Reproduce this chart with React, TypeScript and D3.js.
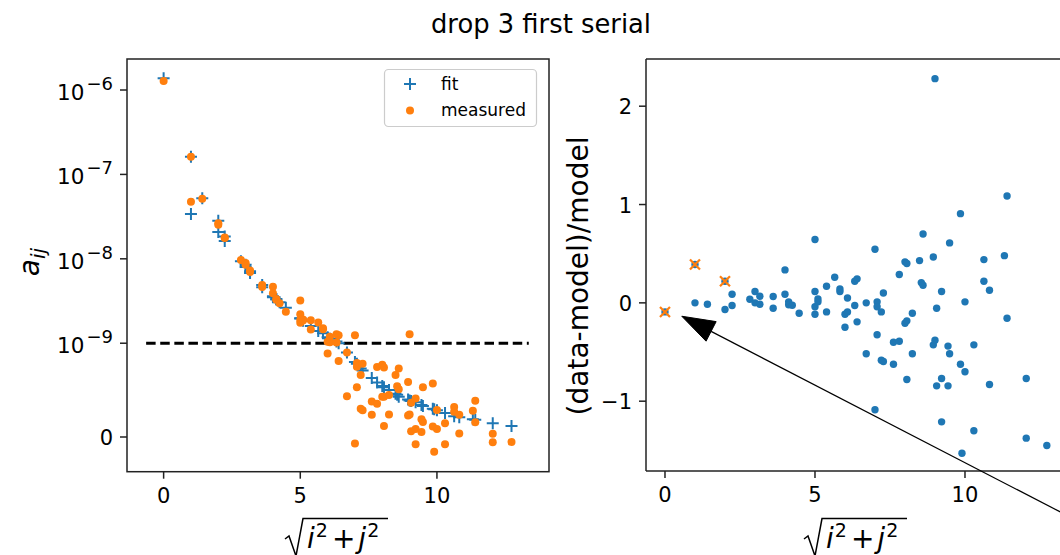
import React from "react";
import * as d3 from "d3";

const FONT = "'DejaVu Sans', sans-serif";
const BLUE = "#1f77b4";
const ORANGE = "#ff7f0e";

// values in units of 1e-9 ; r = sqrt(i^2 + j^2)
const fitPts: [number, number][] = [
  [0, 1377], [1, 162], [1, 34], [1.414, 52.2], [2, 28.3], [2, 20.8], [2.236, 16.3], [2.236, 18.4],
  [2.828, 9.35], [3, 8.0], [3, 8.5], [3.162, 6.8], [3.162, 7.1], [3.606, 4.6], [3.606, 4.9],
  [4, 3.5], [4, 3.6], [4.123, 3.3], [4.123, 3.35], [4.243, 3.05], [4.472, 2.64], [5, 1.96], [5, 1.98],
  [5.099, 1.84], [5.385, 1.6], [5.657, 1.4], [5.831, 1.31], [6, 1.18], [6.083, 1.13], [6.325, 1.05],
  [6.403, 1.0], [6.708, 0.9], [7, 0.8], [7.071, 0.78], [7.211, 0.73], [7.28, 0.71], [7.616, 0.63],
  [7.81, 0.58], [8, 0.545], [8.062, 0.53], [8.246, 0.5], [8.485, 0.46], [8.544, 0.45], [8.602, 0.43],
  [8.944, 0.4], [9, 0.39], [9.055, 0.385], [9.22, 0.37], [9.434, 0.34], [9.487, 0.33], [9.849, 0.3],
  [9.899, 0.295], [10, 0.285], [10.296, 0.255], [10.63, 0.22], [10.817, 0.21], [11.314, 0.19],
  [11.402, 0.185], [12.042, 0.147], [12.728, 0.118],
];

const measPts: [number, number][] = [
  [0, 1279], [1, 162], [1, 47.5], [1.414, 51.5], [2, 26.4], [2, 25.4], [2.236, 17.7], [2.236, 17.9],
  [2.828, 9.7], [3, 8.9], [3, 8.5], [3.162, 7.25], [3.162, 7.0], [3.606, 4.9], [3.606, 4.63],
  [4, 4.68], [4, 3.92], [4.123, 3.33], [4.123, 3.28], [4.243, 2.98], [4.472, 2.36], [5, 3.2], [5, 2.2],
  [5, 1.88], [5, 1.75], [5.099, 1.91], [5.099, 1.86], [5.385, 1.87], [5.385, 1.45], [5.657, 1.76],
  [5.831, 1.5], [5.831, 1.46], [6, 1.04], [6, 0.89], [6.083, 1.03], [6.083, 1.19], [6.325, 1.02],
  [6.325, 1.28], [6.403, 1.24], [6.403, 0.81], [6.708, 0.9], [6.708, 0.434], [7, -0.07], [7, 1.24],
  [7.071, 0.79], [7.071, 0.75], [7.071, 0.53], [7.211, 0.66], [7.211, 0.3], [7.28, 0.78], [7.28, 0.286],
  [7.616, 0.378], [7.616, 0.237], [7.81, 0.747], [7.81, 0.354], [8, 0.77], [8, 0.43], [8.062, 0.74],
  [8.062, 0.43], [8.062, 0.117], [8.246, 0.447], [8.246, 0.24], [8.485, 0.66], [8.544, 0.54],
  [8.602, 0.51], [8.602, 0.73], [8.944, 0.23], [8.944, 0.587], [9, 0.24], [9, 1.28], [9.055, 0.364],
  [9.055, 0.06], [9.22, 0.41], [9.22, 0.085], [9.22, -0.078], [9.434, 0.19], [9.434, 0.053],
  [9.487, 0.16], [9.487, 0.53], [9.849, 0.57], [9.849, 0.113], [9.899, -0.156], [10, 0.086], [10, 0.288],
  [10.296, 0.146], [10.296, -0.077], [10.63, 0.27], [10.63, 0.32], [10.817, 0.237], [10.817, 0.036],
  [11.314, 0.28], [11.402, 0.386], [11.402, 0.156], [12.042, 0.034], [12.042, -0.055], [12.728, -0.053],
];

const residPts: [number, number][] = [
  [1, 0.0], [1.414, -0.014], [2, -0.068], [2.236, 0.088], [2.236, -0.027], [2.828, 0.037], [3, 0.115],
  [3, 0.0], [3.162, 0.067], [3.162, -0.014], [3.606, 0.064], [3.606, -0.055], [4, 0.335], [4, 0.088],
  [4.123, 0.01], [4.123, -0.02], [4.243, -0.024], [4.472, -0.105], [5, 0.645], [5, 0.115], [5, -0.04],
  [5, -0.116], [5.099, 0.04], [5.099, 0.01], [5.385, 0.169], [5.385, -0.092], [5.657, 0.26],
  [5.831, 0.142], [5.831, 0.115], [6, -0.116], [6, -0.248], [6.083, -0.092], [6.083, 0.05],
  [6.325, -0.027], [6.325, 0.22], [6.403, 0.244], [6.403, -0.193], [6.708, 0.0], [6.708, -0.518],
  [7, -1.087], [7, 0.545], [7.071, 0.01], [7.071, -0.04], [7.071, -0.325], [7.211, -0.092],
  [7.211, -0.583], [7.28, 0.1], [7.28, -0.597], [7.616, -0.4], [7.616, -0.624], [7.81, 0.288],
  [7.81, -0.39], [8, 0.417], [8, -0.207], [8.062, 0.4], [8.062, -0.183], [8.062, -0.78], [8.246, -0.106],
  [8.246, -0.518], [8.485, 0.43], [8.544, 0.206], [8.602, 0.179], [8.602, 0.7], [8.944, -0.427],
  [8.944, 0.467], [9, -0.38], [9, 2.28], [9.055, -0.055], [9.055, -0.844], [9.22, 0.115], [9.22, -0.77],
  [9.22, -1.21], [9.434, -0.44], [9.434, -0.844], [9.487, -0.518], [9.487, 0.61], [9.849, 0.907],
  [9.849, -0.624], [9.899, -1.53], [10, -0.7], [10, 0.01], [10.296, -0.427], [10.296, -1.3],
  [10.63, 0.22], [10.63, 0.44], [10.817, 0.128], [10.817, -0.83], [11.314, 0.48], [11.402, 1.087],
  [11.402, -0.156], [12.042, -0.77], [12.042, -1.376], [12.728, -1.45],
];

const droppedPts: [number, number][] = [[0, -0.092], [1, 0.39], [2, 0.22]];

const xTicks = [0, 5, 10];
const leftYTicks = [0, 1, 10, 100, 1000]; // 1e-9 units
const leftYExp = ["", "−9", "−8", "−7", "−6"];
const rightYTicks = [-1, 0, 1, 2];
const thresholdLevel = 1; // 1e-9
const thresholdSpan = [-0.64, 13.36];
const arrowTip = [0.56, -0.136];
const arrowTail = [14.5, -2.335];

const LINTHRESH = 1;
const LINSCALE = 1 / (1 - 1 / 10);
function symlog(v: number) {
  const a = Math.abs(v) / LINTHRESH;
  return Math.sign(v) * (a <= 1 ? a * LINSCALE : LINSCALE + Math.log10(a));
}

function SqrtLabel({ cx }: { cx: number }) {
  return (
    <g>
      <path
        d={`M${cx - 52},539 L${cx - 48},536 L${cx - 41},556 L${cx - 34},518.5 L${cx + 51},518.5`}
        fill="none" stroke="#000" strokeWidth={1.5}
      />
      <text x={cx - 30} y={548} fontSize={28} fontFamily={FONT}>
        <tspan fontStyle="italic">i</tspan>
        <tspan fontSize={19} dy={-11} dx={1}>2</tspan>
        <tspan dy={11} dx={4}>+</tspan>
        <tspan fontStyle="italic" dx={3}>j</tspan>
        <tspan fontSize={19} dy={-11} dx={1}>2</tspan>
      </text>
    </g>
  );
}

function Plus({ x, y, s = 6 }: { x: number; y: number; s?: number }) {
  return (
    <g stroke={BLUE} strokeWidth={2}>
      <line x1={x - s} x2={x + s} y1={y} y2={y} />
      <line x1={x} x2={x} y1={y - s} y2={y + s} />
    </g>
  );
}

export default function App() {
  const L = { x0: 127, x1: 549, y0: 59, y1: 471.7 };
  const R = { x0: 646, x1: 1066, y0: 59, y1: 471 };
  const xL = d3.scaleLinear().domain([-1.34, 14.1]).range([L.x0, L.x1]);
  const yLt = d3.scaleLinear().domain([symlog(-0.37), symlog(2330)]).range([L.y1, L.y0]);
  const yL = (v: number) => yLt(symlog(v));
  const xR = d3.scaleLinear().domain([-0.633, 13.367]).range([R.x0, R.x1]);
  const yR = d3.scaleLinear().domain([-1.71, 2.48]).range([R.y1, R.y0]);

  const tipX = xR(arrowTip[0]), tipY = yR(arrowTip[1]);
  const tailX = xR(arrowTail[0]), tailY = yR(arrowTail[1]);
  const len = Math.hypot(tailX - tipX, tailY - tipY);
  const ux = (tailX - tipX) / len, uy = (tailY - tipY) / len;
  const hl = 33, hw = 11;
  const bx = tipX + ux * hl, by = tipY + uy * hl;
  const head = `M${tipX},${tipY} L${bx - uy * hw},${by + ux * hw} L${bx + uy * hw},${by - ux * hw} Z`;

  const spine = "#222";
  return (
    <svg width={1060} height={555} style={{ position: "absolute", left: 0, top: 0, background: "#fff" }}
      fontFamily={FONT}>
      <defs>
        <clipPath id="clipL"><rect x={L.x0} y={L.y0} width={L.x1 - L.x0} height={L.y1 - L.y0} /></clipPath>
        <clipPath id="clipR"><rect x={R.x0} y={R.y0} width={R.x1 - R.x0} height={R.y1 - R.y0} /></clipPath>
      </defs>
      <rect x={0} y={0} width={1060} height={555} fill="#fff" />
      <text x={541} y={33} textAnchor="middle" fontSize={25.8}>drop 3 first serial</text>

      {/* LEFT PANEL */}
      <g clipPath="url(#clipL)">
        <line x1={xL(thresholdSpan[0])} x2={xL(thresholdSpan[1])} y1={yL(thresholdLevel)} y2={yL(thresholdLevel)}
          stroke="#000" strokeWidth={3} strokeDasharray="9.5,4.6" />
        {fitPts.map((p, i) => <Plus key={"f" + i} x={xL(p[0])} y={yL(p[1])} />)}
        {measPts.map((p, i) => <circle key={"m" + i} cx={xL(p[0])} cy={yL(p[1])} r={4} fill={ORANGE} />)}
      </g>
      <rect x={L.x0} y={L.y0} width={L.x1 - L.x0} height={L.y1 - L.y0} fill="none" stroke={spine} strokeWidth={1.5} />
      {xTicks.map((t) => (
        <g key={"xl" + t}>
          <line x1={xL(t)} x2={xL(t)} y1={L.y1} y2={L.y1 + 7} stroke={spine} strokeWidth={1.5} />
          <text x={xL(t)} y={L.y1 + 31} textAnchor="middle" fontSize={21}>{t}</text>
        </g>
      ))}
      {leftYTicks.map((t, i) => (
        <g key={"yl" + t}>
          <line x1={L.x0 - 7} x2={L.x0} y1={yL(t)} y2={yL(t)} stroke={spine} strokeWidth={1.5} />
          {i === 0 ? (
            <text x={L.x0 - 14} y={yL(t) + 8} textAnchor="end" fontSize={21}>0</text>
          ) : (
            <text x={L.x0 - 14} y={yL(t) + 10} textAnchor="end" fontSize={21.5}>
              <tspan>10</tspan>
              <tspan fontSize={18} dy={-10} dx={2}>{leftYExp[i]}</tspan>
            </text>
          )}
        </g>
      ))}
      <text transform={`translate(39,262) rotate(-90)`} textAnchor="middle" fontSize={28}>
        <tspan fontStyle="italic">a</tspan>
        <tspan fontStyle="italic" fontSize={20} dy={6}>ij</tspan>
      </text>
      <SqrtLabel cx={337} />

      {/* legend */}
      <rect x={384.5} y={69.5} width={152} height={57} rx={4} fill="#fff" fillOpacity={0.8} stroke="#cccccc" strokeWidth={1.2} />
      <Plus x={410} y={84} />
      <text x={441} y={90} fontSize={17}>fit</text>
      <circle cx={410} cy={110.5} r={4} fill={ORANGE} />
      <text x={441} y={116} fontSize={17}>measured</text>

      {/* RIGHT PANEL */}
      <g clipPath="url(#clipR)">
        {residPts.map((p, i) => <circle key={"r" + i} cx={xR(p[0])} cy={yR(p[1])} r={3.7} fill={BLUE} />)}
        {droppedPts.map((p, i) => {
          const x = xR(p[0]), y = yR(p[1]);
          return (
            <g key={"d" + i}>
              <circle cx={x} cy={y} r={3.7} fill={BLUE} />
              <g stroke={ORANGE} strokeWidth={2.2}>
                <line x1={x - 5} y1={y - 5} x2={x + 5} y2={y + 5} />
                <line x1={x - 5} y1={y + 5} x2={x + 5} y2={y - 5} />
              </g>
            </g>
          );
        })}
      </g>
      <line x1={R.x0} x2={R.x0} y1={R.y0} y2={R.y1} stroke={spine} strokeWidth={1.5} />
      <line x1={R.x0} x2={R.x1} y1={R.y0} y2={R.y0} stroke={spine} strokeWidth={1.5} />
      <line x1={R.x0} x2={R.x1} y1={R.y1} y2={R.y1} stroke={spine} strokeWidth={1.5} />
      <line x1={R.x1} x2={R.x1} y1={R.y0} y2={R.y1} stroke={spine} strokeWidth={1.5} />
      {xTicks.map((t) => (
        <g key={"xr" + t}>
          <line x1={xR(t)} x2={xR(t)} y1={R.y1} y2={R.y1 + 7} stroke={spine} strokeWidth={1.5} />
          <text x={xR(t)} y={R.y1 + 31} textAnchor="middle" fontSize={21}>{t}</text>
        </g>
      ))}
      {rightYTicks.map((t) => (
        <g key={"yr" + t}>
          <line x1={R.x0 - 7} x2={R.x0} y1={yR(t)} y2={yR(t)} stroke={spine} strokeWidth={1.5} />
          <text x={R.x0 - 14} y={yR(t) + 8} textAnchor="end" fontSize={21}>{t < 0 ? "−" + Math.abs(t) : t}</text>
        </g>
      ))}
      <text transform={`translate(588,276) rotate(-90)`} textAnchor="middle" fontSize={28}>(data-model)/model</text>
      <SqrtLabel cx={856} />

      {/* annotation arrow */}
      <line x1={bx} y1={by} x2={tailX} y2={tailY} stroke="#000" strokeWidth={1.2} />
      <path d={head} fill="#000" stroke="#000" strokeWidth={1} />
    </svg>
  );
}
